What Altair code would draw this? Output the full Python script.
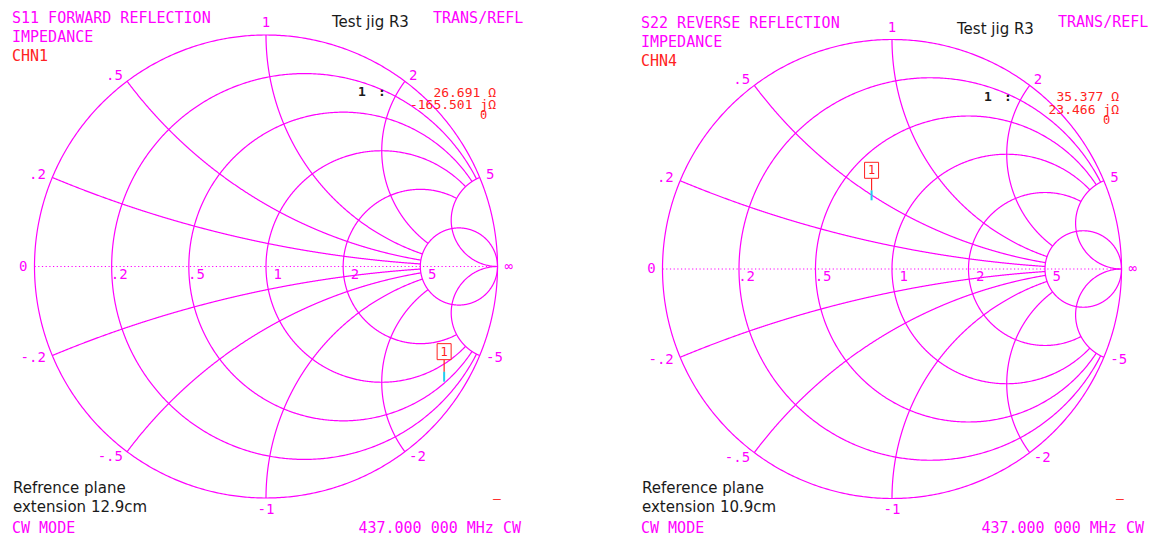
import numpy as np
import pandas as pd
import altair as alt

# ---- Smith chart grid values (normalised impedance) ----
r_grid = [0.2, 0.5, 1, 2, 5]            # constant-resistance circles
x_grid = [0.2, 0.5, 1, 2, 5]            # constant-reactance arcs (+ and -)
r_text = [".2", ".5", "1", "2", "5"]
x_text_pos = [".2", ".5", "1", "2", "5"]
x_text_neg = ["-.2", "-.5", "-1", "-2", "-5"]

# ---- instrument readouts ----
z_ref = 50.0
left_title = ["S11 FORWARD REFLECTION", "IMPEDANCE", "CHN1"]
right_title = ["S22 REVERSE REFLECTION", "IMPEDANCE", "CHN4"]
left_marker_ohm = [26.691, -165.501]
right_marker_ohm = [35.377, 23.466]
left_note = ["Refrence plane", "extension 12.9cm"]
right_note = ["Reference plane", "extension 10.9cm"]
jig_title = "Test jig R3"
mode_text = "CW MODE"
freq_text = "437.000 000 MHz CW"
format_text = "TRANS/REFL"

MAG = "#FF00FF"
RED = "#FF2222"
CYAN = "#22CCEE"
INK = "#1a1a1a"
MONO = "DejaVu Sans Mono"
SANS = "DejaVu Sans"

N = 720
R_MAX = max(r_grid)
X_MAX = max(x_grid)


def gamma(z):
    return (z - 1) / (z + 1)


def grid_frame():
    curves = []
    phi = np.linspace(0, 2 * np.pi, N)
    for r in [0.0] + r_grid:
        c, rho = r / (1 + r), 1 / (1 + r)
        if r == 0 or r == R_MAX:
            pts = c + rho * np.exp(1j * phi)
        else:
            # resistance circles stop at the outermost reactance arcs
            s = np.linspace(-np.arctan(X_MAX), np.arctan(X_MAX), N)
            pts = gamma(r + 1j * np.tan(s))
        curves.append(pts)
    for x in x_grid:
        if x == X_MAX:
            s = np.linspace(0, np.pi / 2, N)       # runs all the way to infinity
        else:
            s = np.linspace(0, np.arctan(R_MAX), N)  # stops at the r = 5 circle
        rr = np.tan(s)
        for sign in (1, -1):
            curves.append(gamma(rr + 1j * sign * x))
    rows = []
    for k, pts in enumerate(curves):
        rows.append(pd.DataFrame({"line": k, "i": np.arange(len(pts)),
                                  "gx": pts.real, "gy": pts.imag}))
    return pd.concat(rows, ignore_index=True)


grid_df = grid_frame()
axis_df = pd.DataFrame({"gx": [gamma(0.0).real, 1.0], "gy": [0.0, 0.0]})
rlab_df = pd.DataFrame({"gx": [gamma(r) for r in r_grid], "gy": 0.0, "t": r_text})

# rim labels for the reactance arcs, plus 0 and infinity
rim = []
for x, tp, tn in zip(x_grid, x_text_pos, x_text_neg):
    for val, t in ((x, tp), (-x, tn)):
        rim.append((gamma(1j * val), t))
rim.append((complex(-1, 0), "0"))
rim.append((complex(1, 0), "∞"))
rim_rows = []
for g, t in rim:
    if abs(g.imag) > 0.95:
        side, k = "C", 0.05
    elif g.real < 0:
        side, k = "R", 0.03
    else:
        side, k = "L", 0.03
    rim_rows.append({"gx": g.real * (1 + k), "gy": g.imag * (1 + k), "t": t, "side": side})
rim_df = pd.DataFrame(rim_rows)

BOX = "M-0.875,-1L0.875,-1L0.875,1L-0.875,1Z"


def txt(s, px, py, color, size, font=MONO, align="left", weight="normal"):
    return alt.Chart(pd.DataFrame({"t": [s]})).mark_text(
        align=align, baseline="alphabetic", color=color, fontSize=size,
        font=font, fontWeight=weight,
    ).encode(text="t:N", x=alt.value(px), y=alt.value(py))


def smith_panel(width, height, off, cx, cy, R, title, marker_ohm, note, at):
    """One analyser display; cx/at positions are page pixels, off is the panel's left edge."""
    xs = alt.Scale(domain=[(off - cx) / R, (off + width - cx) / R], nice=False, zero=False)
    ys = alt.Scale(domain=[(cy - height) / R, cy / R], nice=False, zero=False)
    X = alt.X("gx:Q", scale=xs, axis=None)
    Y = alt.Y("gy:Q", scale=ys, axis=None)

    grid = alt.Chart(grid_df).mark_line(color=MAG, strokeWidth=1.2).encode(
        x=X, y=Y, detail="line:N", order=alt.Order("i:Q"))
    real_axis = alt.Chart(axis_df).mark_line(
        color=MAG, strokeWidth=1.2, strokeDash=[1.2, 2.5]).encode(x=X, y=Y)
    rlab = alt.Chart(rlab_df).mark_text(
        align="right", baseline="middle", dx=16, dy=8, color=MAG,
        font=MONO, fontSize=14).encode(x=X, y=Y, text="t:N")
    rims = []
    for side, al in (("L", "left"), ("R", "right"), ("C", "center")):
        rims.append(alt.Chart(rim_df).transform_filter(alt.datum.side == side).mark_text(
            align=al, baseline="middle", color=MAG, font=MONO, fontSize=14
        ).encode(x=X, y=Y, text="t:N"))

    # marker 1: normalised impedance -> reflection coefficient
    g = gamma(complex(marker_ohm[0], marker_ohm[1]) / z_ref)
    mk = pd.DataFrame({"gx": [g.real], "gy": [g.imag], "n": ["1"]})
    tick = alt.Chart(mk).mark_rule(color=CYAN, strokeWidth=2, y2Offset=-10).encode(
        x=X, y=Y, y2=alt.Y2("gy:Q"))
    stem = alt.Chart(mk).mark_rule(color=RED, strokeWidth=1.2, yOffset=-10, y2Offset=-22).encode(
        x=X, y=Y, y2=alt.Y2("gy:Q"))
    box = alt.Chart(mk).mark_point(shape=BOX, size=256, filled=True, fill="white",
                                   stroke=RED, strokeWidth=1, opacity=1, yOffset=-30).encode(x=X, y=Y)
    boxnum = alt.Chart(mk).mark_text(color=RED, font=MONO, fontSize=12, baseline="middle",
                                     dy=-30).encode(x=X, y=Y, text="n:N")

    readout = [f"{marker_ohm[0]:.3f} Ω", f"{marker_ohm[1]:.3f} jΩ", "0"]
    L = lambda v: v - off
    texts = [
        txt(title[0], L(at["left"]), at["top"], MAG, 15),
        txt(title[1], L(at["left"]), at["top"] + 19, MAG, 15),
        txt(title[2], L(at["left"]), at["top"] + 38, RED, 15),
        txt(format_text, L(at["fmt"]), at["top"] - 0.5, MAG, 15),
        txt(jig_title, L(at["jig"][0]), at["jig"][1], INK, 15, font=SANS),
        txt("1", L(at["one"][0]), at["one"][1], INK, 13, align="center", weight="bold"),
        txt(":", L(at["one"][0] + 20), at["one"][1], INK, 13, align="center", weight="bold"),
        txt(readout[0], L(at["ro"][0]), at["ro"][1], RED, 13, align="right"),
        txt(readout[1], L(at["ro"][0]), at["ro"][1] + 12.5, RED, 13, align="right"),
        txt(readout[2], L(at["ro"][0] - 12.5), at["ro"][1] + 22.5, RED, 12, align="center"),
        txt(note[0], L(at["left"] + 1), 493, INK, 15, font=SANS),
        txt(note[1], L(at["left"] + 1), 512, INK, 15, font=SANS),
        txt(mode_text, L(at["left"]), 533, MAG, 15),
        txt(freq_text, L(at["ro"][0] + 25), 533, MAG, 15, align="right"),
        txt("–", L(at["ro"][0] + 1), 503, RED, 13, align="center"),
    ]
    layers = [grid, real_axis, rlab] + rims + [tick, stem, box, boxnum] + texts
    return alt.layer(*layers).properties(width=width, height=height)


left = smith_panel(579, 539, 0, 266.0, 266.5, 231.5, left_title, left_marker_ohm, left_note,
                   {"left": 12, "top": 23, "fmt": 433, "jig": (332, 27),
                    "one": (362, 96), "ro": (496, 96.5)})
right = smith_panel(570, 539, 579, 892.0, 269.0, 229.5, right_title, right_marker_ohm, right_note,
                    {"left": 641, "top": 27.5, "fmt": 1058, "jig": (957, 34),
                     "one": (988, 100.5), "ro": (1119, 101)})

chart = alt.hconcat(left, right, spacing=0, bounds="flush").properties(
    padding=0
).configure_view(stroke=None)

chart.save("out.html", embed_options={"renderer": "svg", "actions": False})
